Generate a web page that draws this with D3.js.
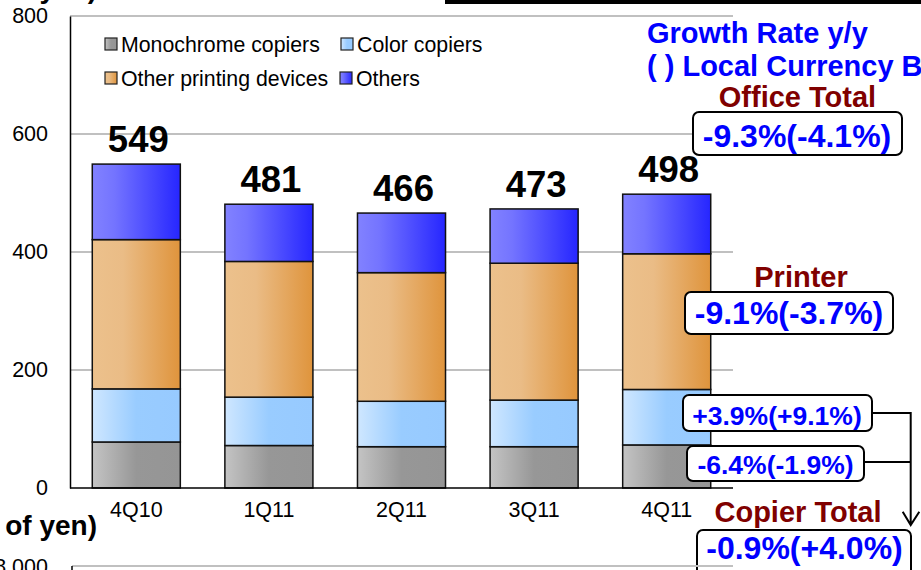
<!DOCTYPE html>
<html>
<head>
<meta charset="utf-8">
<script src="https://cdn.jsdelivr.net/npm/d3@7"></script>
<style>
  html, body { margin: 0; padding: 0; background: #fff; }
  svg { display: block; font-family: "Liberation Sans", Arial, sans-serif; }
</style>
</head>
<body>
<svg id="chart" width="921" height="570"></svg>
<script>
// Quarterly office sales (billions of yen), stacked by product line
const quarters = ["4Q10", "1Q11", "2Q11", "3Q11", "4Q11"];
const monochrome = [78, 72, 70, 70, 73];
const colorCopiers = [90, 82, 77, 79, 94];
const otherPrinting = [253, 230, 218, 232, 230];
const others = [128, 97, 101, 92, 101];
const yTicks = [0, 200, 400, 600, 800];

const seriesKeys = ["mono", "color", "printing", "others"];
const seriesNames = ["Monochrome copiers", "Color copiers", "Other printing devices", "Others"];

// Year-on-year growth, yen (local currency basis)
const growthTitles = ["Office Total", "Printer", "Copier Total"];
const growthOffice = "-9.3%(-4.1%)";
const growthPrinter = "-9.1%(-3.7%)";
const growthColor = "+3.9%(+9.1%)";
const growthMono = "-6.4%(-1.9%)";
const growthCopier = "-0.9%(+4.0%)";

const svg = d3.select("#chart");
const W = 921, H = 570;

const rows = quarters.map((q, i) => ({
  q,
  mono: monochrome[i],
  color: colorCopiers[i],
  printing: otherPrinting[i],
  others: others[i]
}));

const plot = { left: 70, right: 733, top: 16, bottom: 488 };

const x = d3.scaleBand()
  .domain(quarters)
  .range([plot.left, plot.right])
  .paddingInner(0.336)
  .paddingOuter(0.168);

const y = d3.scaleLinear()
  .domain([0, 800])
  .range([plot.bottom, plot.top]);

// Horizontal gradients for the bar fills
const defs = svg.append("defs");
const gradients = {
  mono: [["0%", "#c4c4c4"], ["50%", "#979797"], ["100%", "#959595"]],
  color: [["0%", "#cfe7ff"], ["50%", "#99ccff"], ["100%", "#97caff"]],
  printing: [["0%", "#ecc18c"], ["35%", "#eabc86"], ["100%", "#df943c"]],
  others: [["0%", "#8282ff"], ["25%", "#7474ff"], ["100%", "#2626ff"]]
};
Object.entries(gradients).forEach(([k, stops]) => {
  const g = defs.append("linearGradient")
    .attr("id", "grad-" + k)
    .attr("x1", "0%").attr("x2", "100%").attr("y1", "0%").attr("y2", "0%");
  stops.forEach(([o, c]) => g.append("stop").attr("offset", o).attr("stop-color", c));
});

// Gridlines
svg.append("g")
  .selectAll("line")
  .data(yTicks.filter(t => t > 0))
  .join("line")
  .attr("x1", plot.left).attr("x2", plot.right)
  .attr("y1", d => y(d)).attr("y2", d => y(d))
  .attr("stroke", "#c0c0c0").attr("stroke-width", 2);

// Y axis
const yAxis = svg.append("g")
  .attr("transform", `translate(${plot.left},0)`)
  .call(d3.axisLeft(y).tickValues(yTicks).tickSize(0).tickPadding(22));
yAxis.select(".domain").attr("stroke", "#000").attr("stroke-width", 1.5);
yAxis.selectAll("text")
  .attr("font-size", 21.5)
  .attr("font-family", "Liberation Sans, Arial, sans-serif")
  .attr("fill", "#000");

// Stacked bars
const stack = d3.stack().keys(seriesKeys)(rows);
svg.append("g")
  .selectAll("g")
  .data(stack)
  .join("g")
  .attr("fill", d => `url(#grad-${d.key})`)
  .selectAll("rect")
  .data(d => d)
  .join("rect")
  .attr("x", d => x(d.data.q))
  .attr("width", x.bandwidth())
  .attr("y", d => y(d[1]))
  .attr("height", d => y(d[0]) - y(d[1]))
  .attr("stroke", "#111")
  .attr("stroke-width", 1.5);

// X axis
const xAxis = svg.append("g")
  .attr("transform", `translate(0,${plot.bottom})`)
  .call(d3.axisBottom(x).tickSize(0).tickPadding(14));
xAxis.select(".domain").attr("stroke", "#000").attr("stroke-width", 1.5)
  .attr("d", `M${plot.left},0H${plot.right}`);
xAxis.selectAll("text")
  .attr("font-size", 21.5)
  .attr("font-family", "Liberation Sans, Arial, sans-serif")
  .attr("fill", "#000");

// Total labels above each bar
svg.append("g")
  .selectAll("text")
  .data(rows)
  .join("text")
  .attr("x", d => x(d.q) + x.bandwidth() / 2 + 2)
  .attr("y", d => y(d.mono + d.color + d.printing + d.others) - 12)
  .attr("text-anchor", "middle")
  .attr("font-size", 36.5)
  .attr("font-weight", "bold")
  .attr("fill", "#000")
  .text(d => d.mono + d.color + d.printing + d.others);

// Legend
const legendPos = [[105, 44], [341, 44], [105, 78], [340, 78]];
const legend = svg.append("g");
seriesKeys.forEach((k, i) => {
  const [lx, ly] = legendPos[i];
  legend.append("rect")
    .attr("x", lx).attr("y", ly - 6)
    .attr("width", 12).attr("height", 12)
    .attr("fill", `url(#grad-${k})`)
    .attr("stroke", "#222").attr("stroke-width", 1.2);
  legend.append("text")
    .attr("x", lx + 16).attr("y", ly + 7.5)
    .attr("font-size", 21.3)
    .attr("fill", "#000")
    .text(seriesNames[i]);
});

// Growth-rate heading
const blue = "#0000ff";
const darkRed = "#800000";
svg.append("text")
  .attr("x", 647).attr("y", 42.5)
  .attr("font-size", 29).attr("font-weight", "bold").attr("fill", blue)
  .text("Growth Rate y/y");
svg.append("text")
  .attr("x", 647).attr("y", 76)
  .attr("font-size", 29).attr("font-weight", "bold").attr("fill", blue)
  .text("( ) Local Currency Basis");

// Boxed growth figures
function growthBox(bx, by, bw, bh, label, size, cx, baseline) {
  svg.append("rect")
    .attr("x", bx).attr("y", by).attr("width", bw).attr("height", bh)
    .attr("rx", 6).attr("ry", 6)
    .attr("fill", "#fff").attr("stroke", "#000").attr("stroke-width", 2);
  svg.append("text")
    .attr("x", cx).attr("y", baseline)
    .attr("text-anchor", "middle")
    .attr("font-size", size).attr("font-weight", "bold").attr("fill", blue)
    .text(label);
}
function title(tx, ty, label) {
  svg.append("text")
    .attr("x", tx).attr("y", ty)
    .attr("text-anchor", "middle")
    .attr("font-size", 29).attr("font-weight", "bold").attr("fill", darkRed)
    .text(label);
}

title(797.5, 106.5, growthTitles[0]);
growthBox(693, 112, 209, 43, growthOffice, 32, 797, 146.5);

title(801, 286.5, growthTitles[1]);
growthBox(685, 292, 208, 42, growthPrinter, 32, 789, 323.5);

// Copier connector with arrow
svg.append("path")
  .attr("d", "M871,413H910.7V525M864,462H910.7M902.7,511.7L910.7,525L919.3,511.7")
  .attr("fill", "none").attr("stroke", "#000").attr("stroke-width", 2);

growthBox(683, 395, 189, 36, growthColor, 26.5, 777, 425);
growthBox(687, 446, 177, 35, growthMono, 26.5, 775.5, 473.5);

title(798, 521.5, growthTitles[2]);
growthBox(697, 530, 214, 50, growthCopier, 32, 804.5, 558.5);

// Unit captions and neighbouring panel edges
svg.append("text")
  .attr("x", 97).attr("y", -2)
  .attr("text-anchor", "end")
  .attr("font-size", 28).attr("font-weight", "bold").attr("fill", "#000")
  .text("(Billions of yen)");
svg.append("rect")
  .attr("x", 445).attr("y", 0).attr("width", W - 445).attr("height", 4)
  .attr("fill", "#000");
svg.append("text")
  .attr("x", 97).attr("y", 535)
  .attr("text-anchor", "end")
  .attr("font-size", 28).attr("font-weight", "bold").attr("fill", "#000")
  .text("(Billions of yen)");
svg.append("text")
  .attr("x", 48).attr("y", 574)
  .attr("text-anchor", "end")
  .attr("font-size", 21.5).attr("fill", "#000")
  .text("8,000");
svg.append("line")
  .attr("x1", 72).attr("x2", 733).attr("y1", 566).attr("y2", 566)
  .attr("stroke", "#c0c0c0").attr("stroke-width", 2);
svg.append("line")
  .attr("x1", 72).attr("x2", 72).attr("y1", 566).attr("y2", 570)
  .attr("stroke", "#000").attr("stroke-width", 1.5);
</script>
</body>
</html>
